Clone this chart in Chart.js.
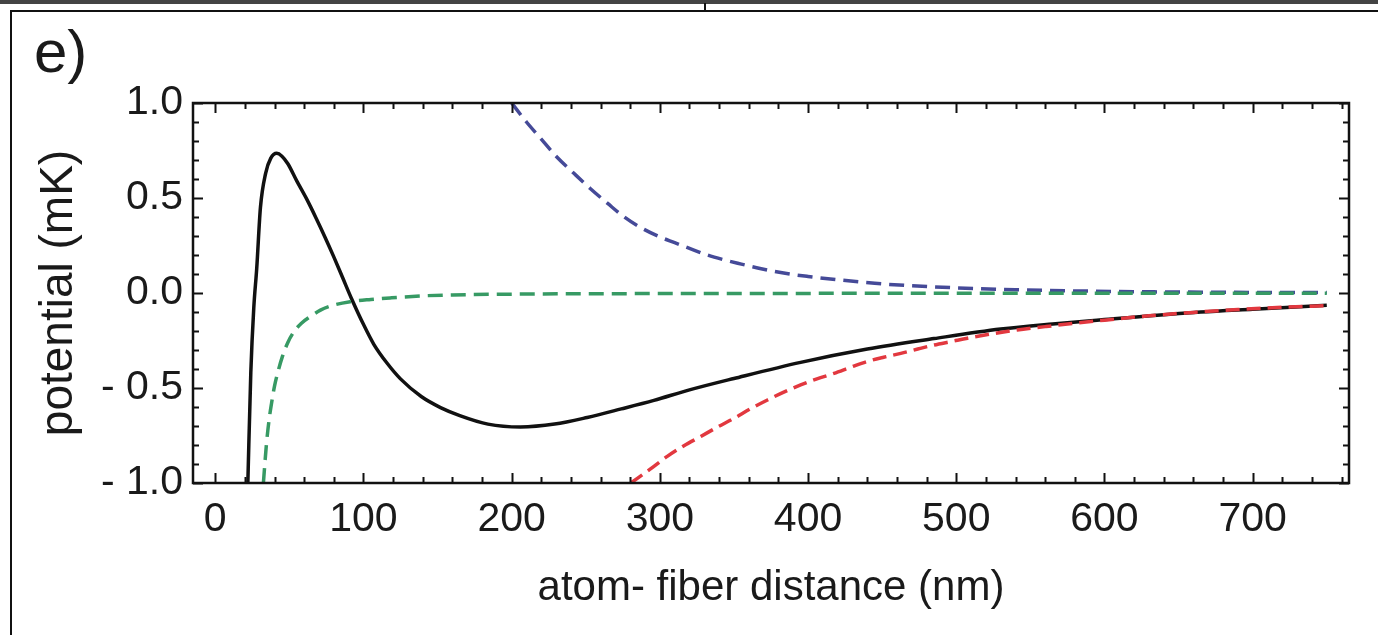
<!DOCTYPE html>
<html>
<head>
<meta charset="utf-8">
<script src="https://cdn.jsdelivr.net/npm/chart.js@4.4.0/dist/chart.umd.min.js"></script>
<style>
html, body { margin: 0; padding: 0; background: #fff; }
#wrap { position: relative; width: 1378px; height: 635px; overflow: hidden; background: #fff; }
#chart { position: absolute; left: 0; top: 0; }
.rule { position: absolute; background: #111; }
#panel { position: absolute; left: 34px; top: 22px; font: 60px/60px "Liberation Sans", Arial, sans-serif; color: #1a1a1a; }
</style>
</head>
<body>
<div id="wrap">
  <div class="rule" style="left:0;top:0;width:1378px;height:4px;background:#444"></div>
  <div class="rule" style="left:10px;top:10px;width:1368px;height:2px"></div>
  <div class="rule" style="left:10px;top:10px;width:2px;height:625px"></div>
  <div class="rule" style="left:704px;top:3px;width:2px;height:7px"></div>
  <div id="panel">e)</div>
  <canvas id="chart" width="1378" height="635"></canvas>
</div>
<script>
"use strict";

// axis ticks
var xTickValues = [0, 100, 200, 300, 400, 500, 600, 700];
var xTickLabels = ['0', '100', '200', '300', '400', '500', '600', '700'];
var yTickValues = [-1, -0.5, 0, 0.5, 1];
var yTickLabels = ['- 1.0', '- 0.5', '0.0', '0.5', '1.0'];

// total potential (black, solid)
var totalX = [22, 24, 26, 28, 30.5, 34, 37.5, 41.5, 45, 49, 55, 62, 68, 74, 80, 86, 92, 100, 107, 116,
    125, 139, 152, 165, 184, 206, 229, 251, 274, 296, 320, 350, 395, 440, 485, 530, 565, 600, 665, 700, 732, 750];
var totalY = [-1.0, -0.42, -0.08, 0.13, 0.45, 0.63, 0.71, 0.735, 0.72, 0.68, 0.59, 0.49, 0.395, 0.295, 0.19, 0.08, -0.03, -0.165, -0.27, -0.37,
    -0.452, -0.545, -0.603, -0.645, -0.69, -0.705, -0.69, -0.655, -0.61, -0.565, -0.51, -0.45, -0.365, -0.295, -0.24, -0.19, -0.163, -0.14, -0.1, -0.085, -0.072, -0.065];

// van der Waals (green, dashed)
var vdwX = [32.5, 34.5, 36.3, 38, 40, 42.5, 45.3, 49, 53, 58, 64, 71, 78, 91, 105, 118, 140, 160, 200, 250, 300, 400, 500, 600, 750];
var vdwY = [-1.0, -0.8, -0.67, -0.58, -0.49, -0.41, -0.335, -0.26, -0.205, -0.16, -0.125, -0.09, -0.068, -0.046, -0.034, -0.026, -0.015, -0.01, -0.006, -0.004, -0.003, -0.002, -0.001, -0.001, -0.001];

// blue detuned (repulsive, dashed)
var blueX = [200, 210, 220, 230, 242, 253, 265, 276, 287, 300, 310, 320, 332, 343, 355, 366, 377, 390, 400, 422, 445, 470, 500, 540, 580, 620, 670, 710, 750];
var blueY = [1.0, 0.90, 0.81, 0.72, 0.63, 0.55, 0.47, 0.40, 0.345, 0.295, 0.265, 0.235, 0.20, 0.175, 0.152, 0.132, 0.114, 0.097, 0.087, 0.068, 0.051, 0.038, 0.027, 0.017, 0.011, 0.007, 0.004, 0.003, 0.002];

// red detuned (attractive, dashed)
var redX = [280.4, 293, 305, 316, 327.6, 339, 350, 361, 372.6, 384, 395, 406, 417.5, 429, 440, 451, 462.6, 474, 485, 497,
    507.6, 524, 541, 560, 580, 600, 630, 660, 690, 720, 750];
var redY = [-1.0, -0.93, -0.86, -0.805, -0.755, -0.705, -0.66, -0.61, -0.563, -0.52, -0.484, -0.452, -0.423, -0.39, -0.36, -0.338, -0.318, -0.295, -0.274, -0.255,
    -0.238, -0.215, -0.195, -0.177, -0.159, -0.143, -0.12, -0.102, -0.087, -0.075, -0.067];

function pairs(xs, ys) {
    return xs.map(function(x, i) { return {x: x, y: ys[i]}; });
}

var fontFamily = '"Liberation Sans", Arial, sans-serif';
Chart.defaults.font.family = fontFamily;
Chart.defaults.color = '#1a1a1a';

/* frame box with inward ticks on all four sides */
var frameTicks = {
    id: 'frameTicks',
    afterDatasetsDraw: function(chart) {
        var ctx = chart.ctx, a = chart.chartArea;
        var xs = chart.scales.x, ys = chart.scales.y;
        ctx.save();
        ctx.strokeStyle = '#111';
        ctx.lineWidth = 2;
        ctx.beginPath();
        for (var v = 0; v <= 760; v += 20) {
            var px = Math.round(xs.getPixelForValue(v)) + 0.5;
            var len = (v % 100 === 0) ? 10 : 6;
            ctx.moveTo(px, a.bottom); ctx.lineTo(px, a.bottom - len);
            ctx.moveTo(px, a.top); ctx.lineTo(px, a.top + len);
        }
        for (var k = -10; k <= 10; k++) {
            var py = Math.round(ys.getPixelForValue(k / 10)) + 0.5;
            var l2 = (k % 5 === 0) ? 10 : 6;
            ctx.moveTo(a.left, py); ctx.lineTo(a.left + l2, py);
            ctx.moveTo(a.right, py); ctx.lineTo(a.right - l2, py);
        }
        ctx.stroke();
        ctx.lineWidth = 2.5;
        ctx.strokeRect(a.left, a.top, a.right - a.left, a.bottom - a.top);
        ctx.restore();
    }
};

var ctx = document.getElementById('chart').getContext('2d');
var chart = new Chart(ctx, {
    type: 'line',
    data: {
        datasets: [{
            label: 'red',
            data: pairs(redX, redY),
            borderColor: '#e2383f',
            borderWidth: 3.5,
            borderDash: [14, 7]
        }, {
            label: 'green',
            data: pairs(vdwX, vdwY),
            borderColor: '#379a64',
            borderWidth: 3.5,
            borderDash: [15, 8]
        }, {
            label: 'blue',
            data: pairs(blueX, blueY),
            borderColor: '#454a98',
            borderWidth: 3.5,
            borderDash: [15, 8]
        }, {
            label: 'total',
            data: pairs(totalX, totalY),
            borderColor: '#111',
            borderWidth: 3.5
        }]
    },
    options: {
        responsive: false,
        animation: false,
        devicePixelRatio: 1,
        layout: { padding: { left: 14, right: 29, top: 103, bottom: 0 } },
        plugins: { legend: { display: false }, tooltip: { enabled: false } },
        elements: {
            point: { radius: 0 },
            line: { cubicInterpolationMode: 'monotone', fill: false, borderCapStyle: 'butt' }
        },
        scales: {
            x: {
                type: 'linear',
                min: -15,
                max: 765,
                grid: { display: false, drawTicks: false },
                border: { display: false },
                afterBuildTicks: function(s) {
                    s.ticks = xTickValues.map(function(v) { return {value: v}; });
                },
                afterFit: function(s) { s.height = 152; },
                ticks: {
                    autoSkip: false,
                    maxRotation: 0,
                    padding: 12,
                    font: { size: 41 },
                    callback: function(v, i) { return xTickLabels[i]; }
                },
                title: {
                    display: true,
                    text: 'atom- fiber distance (nm)',
                    font: { size: 42 },
                    padding: { top: 0, bottom: 21 }
                }
            },
            y: {
                type: 'linear',
                min: -1,
                max: 1,
                grid: { display: false, drawTicks: false },
                border: { display: false },
                afterBuildTicks: function(s) {
                    s.ticks = yTickValues.map(function(v) { return {value: v}; });
                },
                afterFit: function(s) { s.width = 179; },
                ticks: {
                    autoSkip: false,
                    padding: 10,
                    font: { size: 41 },
                    callback: function(v, i) { return yTickLabels[i]; }
                },
                title: {
                    display: true,
                    text: 'potential (mK)',
                    font: { size: 46 },
                    padding: { top: 18, bottom: 0 }
                }
            }
        }
    },
    plugins: [frameTicks]
});
</script>
</body>
</html>
